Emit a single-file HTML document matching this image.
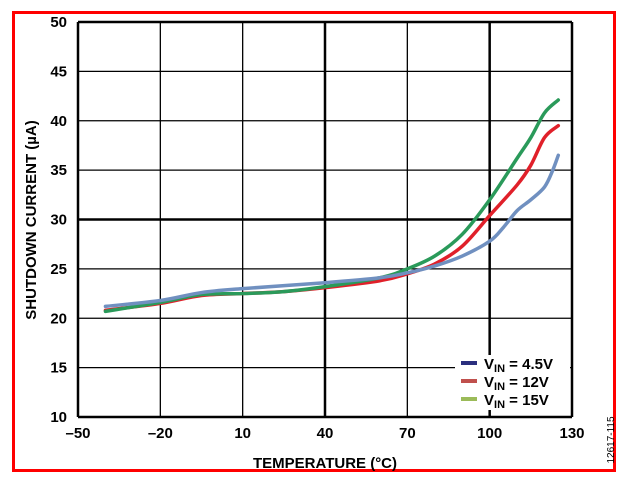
<!DOCTYPE html>
<html><head><meta charset="utf-8"><style>
body{margin:0;background:#fff;}
svg text{font-family:"Liberation Sans",sans-serif;font-weight:bold;}
</style></head><body>
<svg width="626" height="481">
<rect x="13.5" y="12.5" width="601" height="458" fill="none" stroke="#f00" stroke-width="3"/>
<g id="grid"></g>
<g id="series"></g>
<g id="labels"></g>
<text x="325" y="468" font-size="15" text-anchor="middle">TEMPERATURE (°C)</text>
<text transform="translate(36,220) rotate(-90)" font-size="15" text-anchor="middle">SHUTDOWN CURRENT (µA)</text>
<text transform="translate(614,440) rotate(-90)" font-size="10" style="font-weight:normal" text-anchor="middle">12617-115</text>
<g>
<rect x="455" y="355" width="115" height="55" fill="#fff"/>
<g><line x1="461" y1="363" x2="477" y2="363" stroke="#2b2f7e" stroke-width="4"/><text x="484" y="369" font-size="15">V<tspan font-size="11" dy="3">IN</tspan><tspan dy="-3"> = 4.5V</tspan></text></g>
<g><line x1="461" y1="381" x2="477" y2="381" stroke="#c0504d" stroke-width="4"/><text x="484" y="387" font-size="15">V<tspan font-size="11" dy="3">IN</tspan><tspan dy="-3"> = 12V</tspan></text></g>
<g><line x1="461" y1="399" x2="477" y2="399" stroke="#9bbb59" stroke-width="4"/><text x="484" y="405" font-size="15">V<tspan font-size="11" dy="3">IN</tspan><tspan dy="-3"> = 15V</tspan></text></g>
</g>
</svg>
<script>
const xTicks=[-50,-20,10,40,70,100,130];
const yTicks=[10,15,20,25,30,35,40,45,50];
const temps4=[-40,-20,-5,10,40,60,70,80,90,100,105,110,115,120,123,125];
const vin45=[21.2,21.8,22.6,23.0,23.6,24.1,24.6,25.3,26.3,27.8,29.2,30.9,32.0,33.3,35.0,36.5];
const tempsR=[-40,-20,-5,10,25,40,60,70,80,90,100,110,115,120,125];
const vin12=[20.8,21.5,22.3,22.5,22.7,23.1,23.8,24.5,25.5,27.3,30.4,33.5,35.5,38.3,39.5];
const vin15=[20.7,21.6,22.4,22.5,22.7,23.2,24.1,25.0,26.3,28.5,32.0,36.2,38.3,40.8,42.1];
const X=t=>78+(t+50)*494/180, Y=v=>22+(50-v)*395/40;
const NS='http://www.w3.org/2000/svg';
function mk(tag,attrs,parent){const e=document.createElementNS(NS,tag);for(const k in attrs)e.setAttribute(k,attrs[k]);parent.appendChild(e);return e;}
const g=document.getElementById('grid'),lab=document.getElementById('labels'),s=document.getElementById('series');
xTicks.forEach(t=>{const w=(t===40||t===100)?2.5:1.3;
const l=mk('line',{x1:X(t),x2:X(t),y1:Y(50),y2:Y(10),stroke:'#000','stroke-width':(t===-50||t===130)?2.5:w},g);

const tx=mk('text',{x:X(t),y:438,'font-size':15,'text-anchor':'middle'},lab);tx.textContent=t<0?'\u2013'+(-t):t;
});
yTicks.forEach(v=>{const w=(v===30)?2.5:1.3;
const l=mk('line',{x1:X(-50),x2:X(130),y1:Y(v),y2:Y(v),stroke:'#000','stroke-width':(v===10||v===50)?2.5:w},g);

const tx=mk('text',{x:67,y:Y(v)+5,'font-size':15,'text-anchor':'end'},lab);tx.textContent=v;
});
function smooth(pts){let d='M'+pts[0][0]+','+pts[0][1];
for(let i=0;i<pts.length-1;i++){const p0=pts[Math.max(0,i-1)],p1=pts[i],p2=pts[i+1],p3=pts[Math.min(pts.length-1,i+2)];
const c1=[p1[0]+(p2[0]-p0[0])/6,p1[1]+(p2[1]-p0[1])/6],c2=[p2[0]-(p3[0]-p1[0])/6,p2[1]-(p3[1]-p1[1])/6];
d+=' C'+c1[0]+','+c1[1]+' '+c2[0]+','+c2[1]+' '+p2[0]+','+p2[1];}return d;}
function line(ts,vs,c,n){const p=mk('path',{d:smooth(ts.map((t,i)=>[X(t),Y(vs[i])])),fill:'none',stroke:c,'stroke-width':3.5,'stroke-linejoin':'round','stroke-linecap':'round'},s);
}
line(tempsR,vin12,'#e0202a','series-vin-12v');
line(tempsR,vin15,'#2a9a5a','series-vin-15v');
line(temps4,vin45,'#7090c0','series-vin-4-5v');
</script>
</body></html>
